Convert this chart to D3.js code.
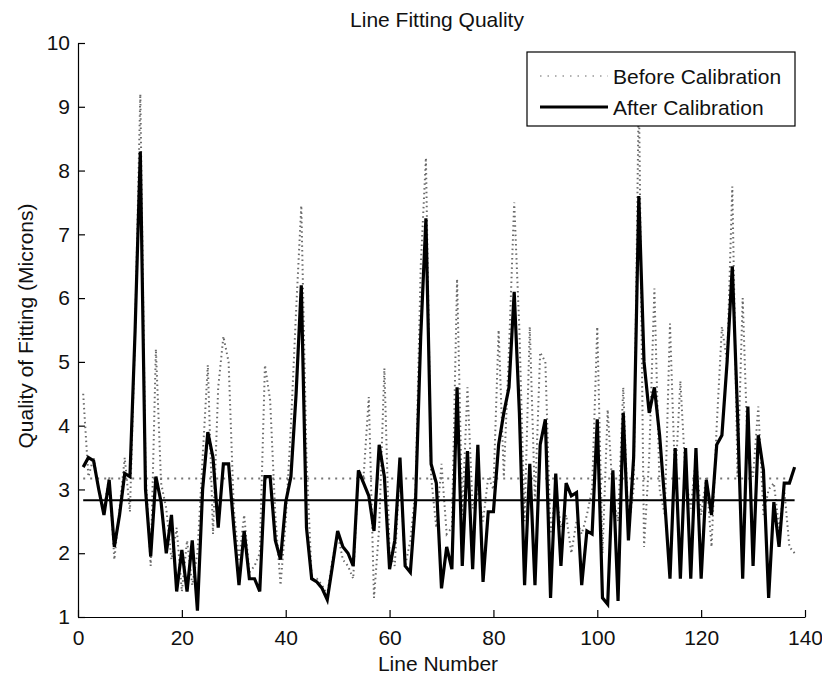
<!DOCTYPE html>
<html><head><meta charset="utf-8">
<script src="https://cdn.jsdelivr.net/npm/d3@7"></script>
<style>body{margin:0;background:#fff}</style>
</head><body>
<svg id="c" width="822" height="677"></svg>
<script>
const title = "Line Fitting Quality";
const xLabel = "Line Number";
const yLabel = "Quality of Fitting (Microns)";
const seriesNames = ["Before Calibration", "After Calibration"];
const xTicks = [0, 20, 40, 60, 80, 100, 120, 140];
const yTicks = [1, 2, 3, 4, 5, 6, 7, 8, 9, 10];
const before = [
  4.5,3.2,3.5,3.0,2.7,3.2,1.9,2.7,3.5,2.65,
  5.5,9.2,3.3,1.8,5.2,3.1,2.7,1.9,2.4,1.4,
  2.2,1.5,2.0,3.5,4.95,2.3,4.6,5.4,5.0,2.7,
  1.9,2.6,1.7,1.8,2.0,4.95,4.4,2.6,1.5,2.5,
  4.0,5.8,7.45,3.5,1.6,1.6,1.5,1.35,1.9,2.3,
  1.9,1.8,1.6,3.3,3.2,4.45,1.3,2.4,4.9,2.0,
  1.8,3.4,1.8,2.2,3.0,6.5,8.2,3.2,2.4,3.4,
  2.3,2.4,6.3,2.6,4.6,2.7,3.0,2.5,3.2,3.0,
  5.5,3.2,5.2,7.5,5.5,2.5,5.55,2.8,5.15,5.0,
  2.3,3.0,2.4,2.6,2.0,2.5,2.3,2.6,3.0,5.55,
  2.0,4.25,2.9,2.5,4.6,2.4,3.0,9.3,2.1,3.5,
  6.15,3.0,2.6,5.6,3.1,4.7,3.2,2.7,3.5,2.6,
  3.2,2.1,4.0,5.55,5.0,7.75,3.2,6.0,3.5,3.2,
  4.3,2.6,3.0,3.1,2.4,3.0,2.1,2.0
];
const after = [
  3.35,3.5,3.45,3.0,2.6,3.15,2.1,2.6,3.25,3.2,
  5.5,8.3,3.0,1.95,3.2,2.8,2.0,2.6,1.4,2.05,
  1.4,2.2,1.1,3.0,3.9,3.5,2.4,3.4,3.4,2.4,
  1.5,2.35,1.6,1.6,1.4,3.2,3.2,2.2,1.9,2.8,
  3.2,4.5,6.2,2.4,1.6,1.55,1.45,1.27,1.8,2.35,
  2.1,2.0,1.8,3.3,3.1,2.9,2.35,3.7,3.2,1.75,
  2.2,3.5,1.8,1.7,2.8,5.4,7.25,3.4,3.1,1.45,
  2.1,1.75,4.6,1.8,3.6,1.75,3.7,1.55,2.65,2.65,
  3.7,4.2,4.6,6.1,4.2,1.5,3.4,1.5,3.7,4.1,
  1.3,3.25,1.8,3.1,2.9,2.95,1.5,2.35,2.3,4.1,
  1.3,1.2,3.3,1.25,4.2,2.2,3.5,7.6,5.0,4.2,
  4.6,3.85,2.8,1.6,3.65,1.6,3.65,1.6,3.65,1.6,
  3.15,2.6,3.7,3.85,5.0,6.5,4.2,1.6,4.3,1.8,
  3.85,3.3,1.3,2.8,2.1,3.1,3.1,3.35
];
const meanLevels = [3.17, 2.83];

const FONT = "'Liberation Sans', Arial, sans-serif";
const FS = 21;
const svg = d3.select("#c");
const x = d3.scaleLinear().domain([0, 140]).range([78, 805]);
const y = d3.scaleLinear().domain([1, 10]).range([617, 43]);
const lineNo = (d, i) => i + 1;

// axes
const gx = svg.append("g").attr("transform", "translate(0,617)")
  .call(d3.axisBottom(x).tickValues(xTicks).tickSizeInner(-7).tickSizeOuter(0).tickPadding(13));
const gy = svg.append("g").attr("transform", "translate(78,0)")
  .call(d3.axisLeft(y).tickValues(yTicks).tickSizeInner(-7).tickSizeOuter(0).tickPadding(8));
[gx, gy].forEach(g => {
  g.selectAll("text").attr("font-family", FONT).attr("font-size", FS).attr("fill", "#111");
  g.selectAll("line, path").attr("stroke", "#000").attr("stroke-width", 1.2);
});
gx.selectAll("text").attr("dy", "0.72em");

// series
const dotted = {stroke: "#6a6a6a", width: 2, dash: "1.5,3.2"};
const lineGen = d3.line().x((d, i) => x(lineNo(d, i))).y(d => y(d));
svg.append("path").datum(before).attr("d", lineGen)
  .attr("fill", "none").attr("stroke", dotted.stroke).attr("stroke-width", dotted.width)
  .attr("stroke-dasharray", dotted.dash);
svg.append("line").attr("x1", x(1)).attr("x2", x(after.length))
  .attr("y1", y(meanLevels[0])).attr("y2", y(meanLevels[0]))
  .attr("stroke", "#777").attr("stroke-width", 2).attr("stroke-dasharray", "2,5");
svg.append("path").datum(after).attr("d", lineGen)
  .attr("fill", "none").attr("stroke", "#000").attr("stroke-width", 3.2);
svg.append("line").attr("x1", x(1)).attr("x2", x(after.length))
  .attr("y1", y(meanLevels[1])).attr("y2", y(meanLevels[1]))
  .attr("stroke", "#000").attr("stroke-width", 2);

// title and labels
svg.append("text").attr("x", 437).attr("y", 27).attr("text-anchor", "middle")
  .attr("font-family", FONT).attr("font-size", FS).attr("fill", "#111").text(title);
svg.append("text").attr("x", 438).attr("y", 671).attr("text-anchor", "middle")
  .attr("font-family", FONT).attr("font-size", FS).attr("fill", "#111").text(xLabel);
svg.append("text").attr("transform", "translate(33,326) rotate(-90)").attr("text-anchor", "middle")
  .attr("font-family", FONT).attr("font-size", FS).attr("fill", "#111").text(yLabel);

// legend
const lg = svg.append("g");
lg.append("rect").attr("x", 527).attr("y", 52).attr("width", 268).attr("height", 74)
  .attr("fill", "#fff").attr("stroke", "#000").attr("stroke-width", 1.2);
const rows = [76, 107];
lg.append("line").attr("x1", 540).attr("x2", 608).attr("y1", rows[0]).attr("y2", rows[0])
  .attr("stroke", "#999").attr("stroke-width", 1.5).attr("stroke-dasharray", "1.5,6");
lg.append("line").attr("x1", 540).attr("x2", 608).attr("y1", rows[1]).attr("y2", rows[1])
  .attr("stroke", "#000").attr("stroke-width", 3);
seriesNames.forEach((n, i) => {
  lg.append("text").attr("x", 613).attr("y", rows[i]).attr("dy", "0.36em")
    .attr("font-family", FONT).attr("font-size", FS).attr("fill", "#111").text(n);
});
</script>
</body></html>
